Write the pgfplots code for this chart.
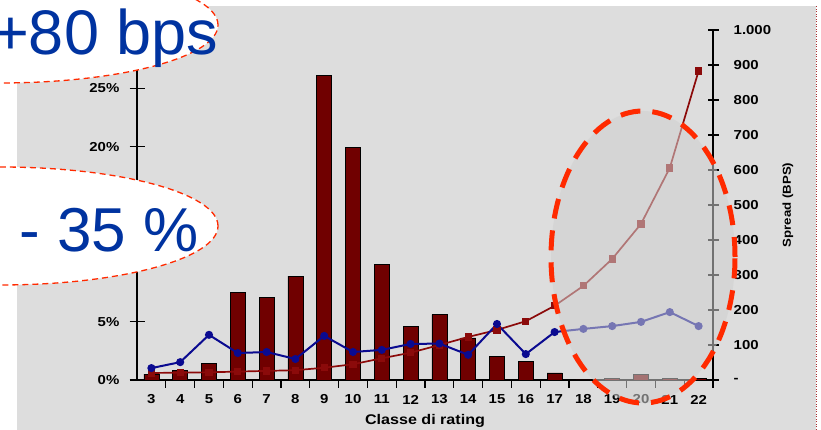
\documentclass[border=0pt]{standalone}
\usepackage{pgfplots}
\pgfplotsset{compat=1.18}
\usepackage{fontspec}
\setmainfont{Liberation Sans}
\newfontfamily\chartfont{Liberation Sans}[FakeStretch=1.15]

\definecolor{bgGray}{HTML}{DDDDDD}
\definecolor{barRed}{HTML}{700000}
\definecolor{lineRed}{HTML}{8B0A0A}
\definecolor{lineBlue}{HTML}{0A0A90}
\definecolor{dashRed}{HTML}{FF2A00}
\definecolor{textBlue}{HTML}{0033A0}
\definecolor{ovalGray}{HTML}{D0D0D0}
\definecolor{edgeRed}{HTML}{A83030}

% share of issuers by rating class (%)
\pgfplotstableread{
cls share
3 0.5
4 0.85
5 1.4
6 7.5
7 7.1
8 8.9
9 26.1
10 19.9
11 9.9
12 4.6
13 5.6
14 3.6
15 2.0
16 1.6
17 0.6
18 0
19 0.15
20 0.5
21 0.15
22 0.1
}\sharetable

% spreads by rating class (bps)
\pgfplotstableread{
cls spreadA spreadB
3 20 34
4 21 51
5 22 129
6 24 77
7 26 80
8 28 60
9 35 126
10 45 80
11 62 86
12 78 103
13 100 104
14 123 72
15 143 160
16 168 74
17 212 137
18 269 146
19 346 154
20 446 166
21 606 194
22 883 154
}\spreadtable

\begin{document}
\begin{tikzpicture}
\useasboundingbox (0pt,0pt) rectangle (821pt,430pt);
\clip (0pt,0pt) rectangle (821pt,430pt);
\fill[bgGray] (17pt,0pt) rectangle (816pt,424pt);
\draw[edgeRed, line width=1.5pt, dash pattern=on 1pt off 1.5pt] (816.5pt,0pt) -- (816.5pt,424pt);

% bars: share of issuers, left axis
\begin{axis}[
  at={(137pt,50pt)}, anchor=south west,
  scale only axis, width=576pt, height=350pt,
  xmin=2.5, xmax=22.5, ymin=0, ymax=30,
  axis x line*=bottom, axis y line*=left,
  axis line style={black, line width=1.2pt},
  tick align=center,
  xtick={3,4,...,22},
  xticklabels={3,4,5,6,7,8,9,10,11,12,13,14,15,16,17,18,19,20,21,22},
  major x tick style={draw=none},
  minor xtick={3.5,4.5,...,22.5},
  minor tick length=8pt,
  minor x tick style={black, line width=1.2pt, yshift=-4pt},
  ytick={0,5,...,25},
  yticklabels={0\%,5\%,10\%,15\%,20\%,25\%},
  major tick length=15pt,
  major y tick style={black, line width=1.2pt},
  ticklabel style={font=\chartfont\fontsize{13}{14}\selectfont\bfseries},
  xticklabel style={anchor=center, yshift=-12pt},
  yticklabel style={anchor=east, inner sep=0pt, xshift=-10pt},
  xlabel={Classe di rating},
  xlabel style={at={(axis description cs:0.5,0)}, anchor=center, yshift=-41pt,
    font=\chartfont\fontsize{14}{15}\selectfont\bfseries},
  clip=false,
]
\addplot[ybar, bar width=15pt, fill=barRed, draw=black, line width=0.8pt]
  table[x=cls, y=share] {\sharetable};
\end{axis}

% lines: spreads, right axis
\begin{axis}[
  at={(137pt,50pt)}, anchor=south west,
  scale only axis, width=576pt, height=350pt,
  xmin=2.5, xmax=22.5, ymin=0, ymax=1000,
  axis x line=none, axis y line*=right,
  axis line style={black, line width=1.2pt},
  tick align=center,
  ytick={0,100,...,1000},
  yticklabels={-,100,200,300,400,500,600,700,800,900,1.000},
  major tick length=11pt,
  major y tick style={black, line width=1.2pt},
  ticklabel style={font=\chartfont\fontsize{13}{14}\selectfont\bfseries},
  yticklabel style={anchor=west, inner sep=0pt, xshift=15pt},
  ylabel={Spread (BPS)},
  ylabel style={at={(axis description cs:1.13,0.5)}, anchor=center, rotate=0,
    font=\chartfont\fontsize{11.5}{12}\selectfont\bfseries},
  clip=false,
]
\addplot[lineRed, line width=1.7pt, mark=square*, mark size=2.8pt,
  mark options={fill=lineRed, draw=lineRed}]
  table[x=cls, y=spreadA] {\spreadtable};
\addplot[lineBlue, line width=2pt, mark=*, mark size=3pt,
  mark options={fill=lineBlue, draw=lineBlue}]
  table[x=cls, y=spreadB] {\spreadtable};
\end{axis}

% highlight of the lowest classes
\fill[ovalGray, fill opacity=0.55] (643pt,173pt) ellipse [x radius=92pt, y radius=146pt];
\draw[dashRed, line width=5pt, dash pattern=on 20pt off 12pt] (643pt,173pt) ellipse [x radius=92pt, y radius=146pt];

% call-outs
\fill[white] (0pt,405pt) ellipse [x radius=218pt, y radius=58pt];
\draw[dashRed, line width=1.3pt, dash pattern=on 6pt off 4pt] (0pt,405pt) ellipse [x radius=218pt, y radius=58pt];
\node[anchor=base west, inner sep=0pt, text=textBlue, font=\fontsize{63}{63}\selectfont] at (-8pt,375pt) {+80 bps};

\fill[white] (0pt,204pt) ellipse [x radius=218pt, y radius=59pt];
\draw[dashRed, line width=1.3pt, dash pattern=on 6pt off 4pt] (0pt,204pt) ellipse [x radius=218pt, y radius=59pt];
\node[anchor=base west, inner sep=0pt, text=textBlue, font=\fontsize{62}{62}\selectfont] at (19pt,178pt) {- 35 \%};
\end{tikzpicture}
\end{document}
